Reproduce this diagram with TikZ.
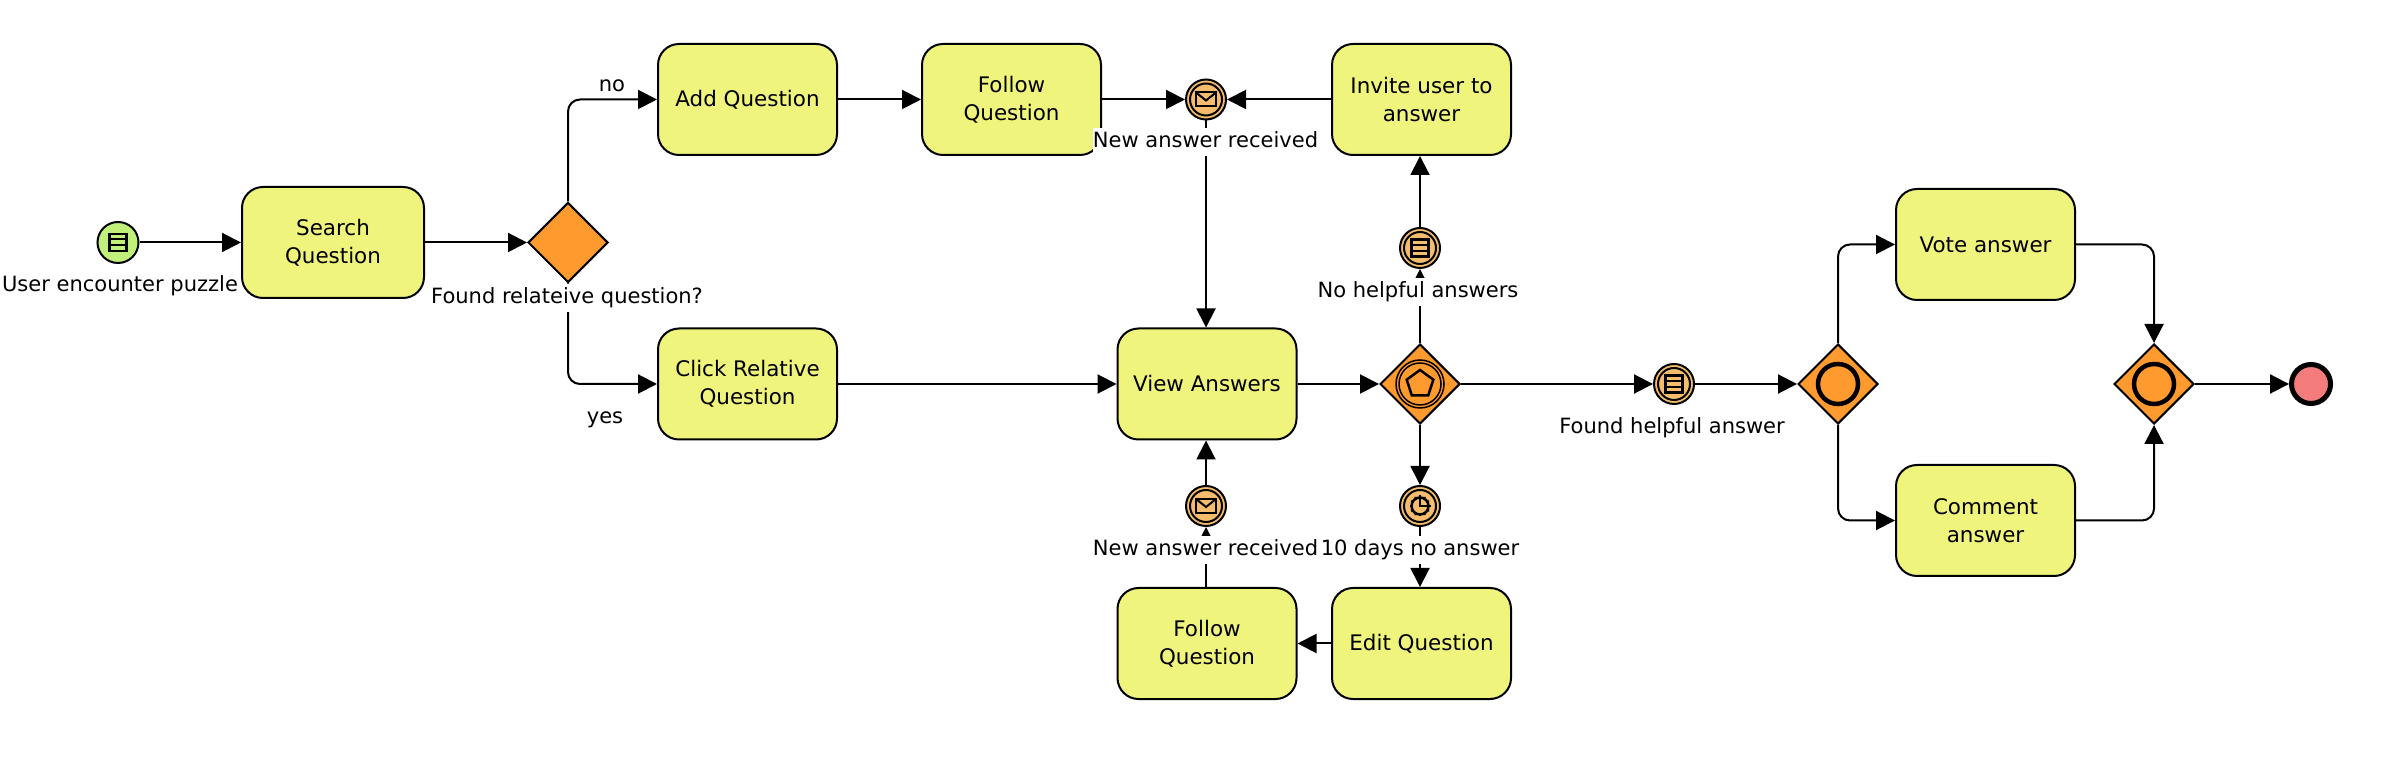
\documentclass[tikz,border=0pt]{standalone}
\usepackage{fontspec}
\setmainfont{DejaVu Sans}
\usetikzlibrary{arrows.meta,calc,shapes.geometric}
\definecolor{taskyellow}{HTML}{EFF47C}
\definecolor{gateorange}{HTML}{FF9A2E}
\definecolor{startgreen}{HTML}{C0F07A}
\definecolor{catchorange}{HTML}{F4BC6C}
\definecolor{endred}{HTML}{F47C7C}
\tikzset{
	every node/.style={font=\fontsize{5.98}{8}\selectfont},
	every path/.style={line width=0.02cm},
	task/.style={draw, fill=taskyellow, rounded corners=0.21cm, minimum width=1.79cm, minimum height=1.11cm, align=center, inner sep=0, font=\fontsize{6.1}{8}\selectfont},
	gate/.style={draw, fill=gateorange, diamond, aspect=1, minimum width=0.8cm, minimum height=0.8cm, inner sep=0},
	catch/.style={draw, fill=catchorange, circle, minimum size=0.4cm, inner sep=0},
	tag/.style={fill=white, inner xsep=0, inner ysep=0, minimum height=0.28cm, text height=0.155cm, text depth=0.04cm},
	flow/.style={-{Triangle[length=0.19cm,width=0.19cm]}, rounded corners=0.12cm}
}
\def\ringcatch(#1){\draw (#1) circle (0.16);}
\def\listicon(#1)[#2]{
	\draw[line width=0.025cm, fill=#2] ($(#1)+(-0.085,-0.085)$) rectangle ($(#1)+(0.085,0.085)$);
	\draw[line width=0.02cm] ($(#1)+(-0.085,-0.03)$) -- ($(#1)+(0.085,-0.03)$);
	\draw[line width=0.02cm] ($(#1)+(-0.085,0.03)$) -- ($(#1)+(0.085,0.03)$);
}
\def\msgicon(#1){
	\draw ($(#1)+(-0.1,-0.07)$) rectangle ($(#1)+(0.1,0.07)$);
	\draw ($(#1)+(-0.1,0.07)$) -- ($(#1)+(0,-0.01)$) -- ($(#1)+(0.1,0.07)$);
}
\def\ringoverlay(#1){\draw[line width=0.045cm] (#1) circle (0.2);}

\begin{document}
\begin{tikzpicture}
	\useasboundingbox (0, 0) rectangle (23.88, 7.68);

	% top row
	\node[draw, fill=startgreen, circle, minimum size=0.41cm, inner sep=0] (start) at (1.18, 5.255) {};
	\node[task, minimum width=1.82cm] (search) at (3.33, 5.255) {Search\\Question};
	\node[gate] (found) at (5.68, 5.255) {};
	\node[task] (add) at (7.475, 6.685) {Add Question};
	\node[task] (followtop) at (10.115, 6.685) {Follow\\Question};
	\node[catch] (msgtop) at (12.06, 6.685) {};
	\node[task] (invite) at (14.215, 6.685) {Invite user to\\answer};
	\node[catch] (nohelp) at (14.20, 5.20) {};

	% middle row
	\node[task] (click) at (7.475, 3.84) {Click Relative\\Question};
	\node[task] (view) at (12.07, 3.84) {View Answers};
	\node[gate] (pick) at (14.20, 3.84) {};
	\node[catch] (helpful) at (16.74, 3.84) {};
	\node[gate] (fork) at (18.38, 3.84) {};
	\node[task] (vote) at (19.855, 5.235) {Vote answer};
	\node[task] (comment) at (19.855, 2.475) {Comment\\answer};
	\node[gate] (join) at (21.54, 3.84) {};
	\node[draw, fill=endred, circle, line width=0.05cm, minimum size=0.39cm, inner sep=0] (finish) at (23.11, 3.84) {};

	% bottom row
	\node[catch] (msgdown) at (12.06, 2.62) {};
	\node[catch] (timer) at (14.20, 2.62) {};
	\node[task] (followdown) at (12.07, 1.245) {Follow\\Question};
	\node[task] (edit) at (14.215, 1.245) {Edit Question};

	% flows
	\draw[flow] (start) -- (search);
	\draw[flow] (search) -- (found);
	\draw[flow] (found.north) |- (add.west);
	\draw[flow] (found.south) |- (click.west);
	\draw[flow] (add) -- (followtop);
	\draw[flow] (followtop) -- (msgtop);
	\draw[flow] (invite) -- (msgtop);
	\draw[flow] (msgtop) -- (msgtop |- view.north);
	\draw[flow] (click) -- (view);
	\draw[flow] (view) -- (pick);
	\draw[flow] (pick) -- (nohelp);
	\draw[flow] (nohelp) -- (nohelp |- invite.south);
	\draw[flow] (pick) -- (timer);
	\draw[flow] (timer) -- (timer |- edit.north);
	\draw[flow] (edit) -- (followdown);
	\draw[flow] (msgdown |- followdown.north) -- (msgdown);
	\draw[flow] (msgdown) -- (msgdown |- view.south);
	\draw[flow] (pick) -- (helpful);
	\draw[flow] (helpful) -- (fork);
	\draw[flow] (fork.north) |- (vote.west);
	\draw[flow] (fork.south) |- (comment.west);
	\draw[flow] (vote.east) -| (join.north);
	\draw[flow] (comment.east) -| (join.south);
	\draw[flow] (join) -- (finish);

	% icons
	\listicon(start)[startgreen]
	\foreach \ev in {msgtop, msgdown, nohelp, helpful, timer} {
		\ringcatch(\ev)
	}
	\msgicon(msgtop)
	\msgicon(msgdown)
	\listicon(nohelp)[catchorange]
	\listicon(helpful)[catchorange]
	\draw[line width=0.025cm] (timer) circle (0.085);
	\foreach \a in {0, 30, ..., 330} {
		\draw[line width=0.012cm] ($(timer)+(\a:0.085)$) -- ($(timer)+(\a:0.105)$);
	}
	\draw (timer.center) ++(0, 0.07) -- (timer.center) -- ++(0.07, 0);

	\draw[line width=0.015cm] (pick) circle (0.24);
	\draw[line width=0.015cm] (pick) circle (0.21);
	\draw[line width=0.025cm] ($(pick)+(90:0.14)$) -- ($(pick)+(162:0.14)$) -- ($(pick)+(234:0.14)$) -- ($(pick)+(306:0.14)$) -- ($(pick)+(18:0.14)$) -- cycle;
	\ringoverlay(fork)
	\ringoverlay(join)

	% labels
	\node[tag] (startlabel) at (1.20, 4.82) {User encounter puzzle};
	\node[tag] (foundlabel) at (5.67, 4.70) {Found relateive question?};
	\node[tag, fill=none] (nolabel) at (6.12, 6.82) {no};
	\node[tag, fill=none] (yeslabel) at (6.05, 3.50) {yes};
	\node[tag] (msgtoplabel) at (12.055, 6.26) {New answer received};
	\node[tag] (nohelplabel) at (14.18, 4.76) {No helpful answers};
	\node[tag] (helpfullabel) at (16.72, 3.40) {Found helpful answer};
	\node[tag] (msgdownlabel) at (12.055, 2.18) {New answer received};
	\node[tag] (timerlabel) at (14.20, 2.18) {10 days no answer};
\end{tikzpicture}
\end{document}
